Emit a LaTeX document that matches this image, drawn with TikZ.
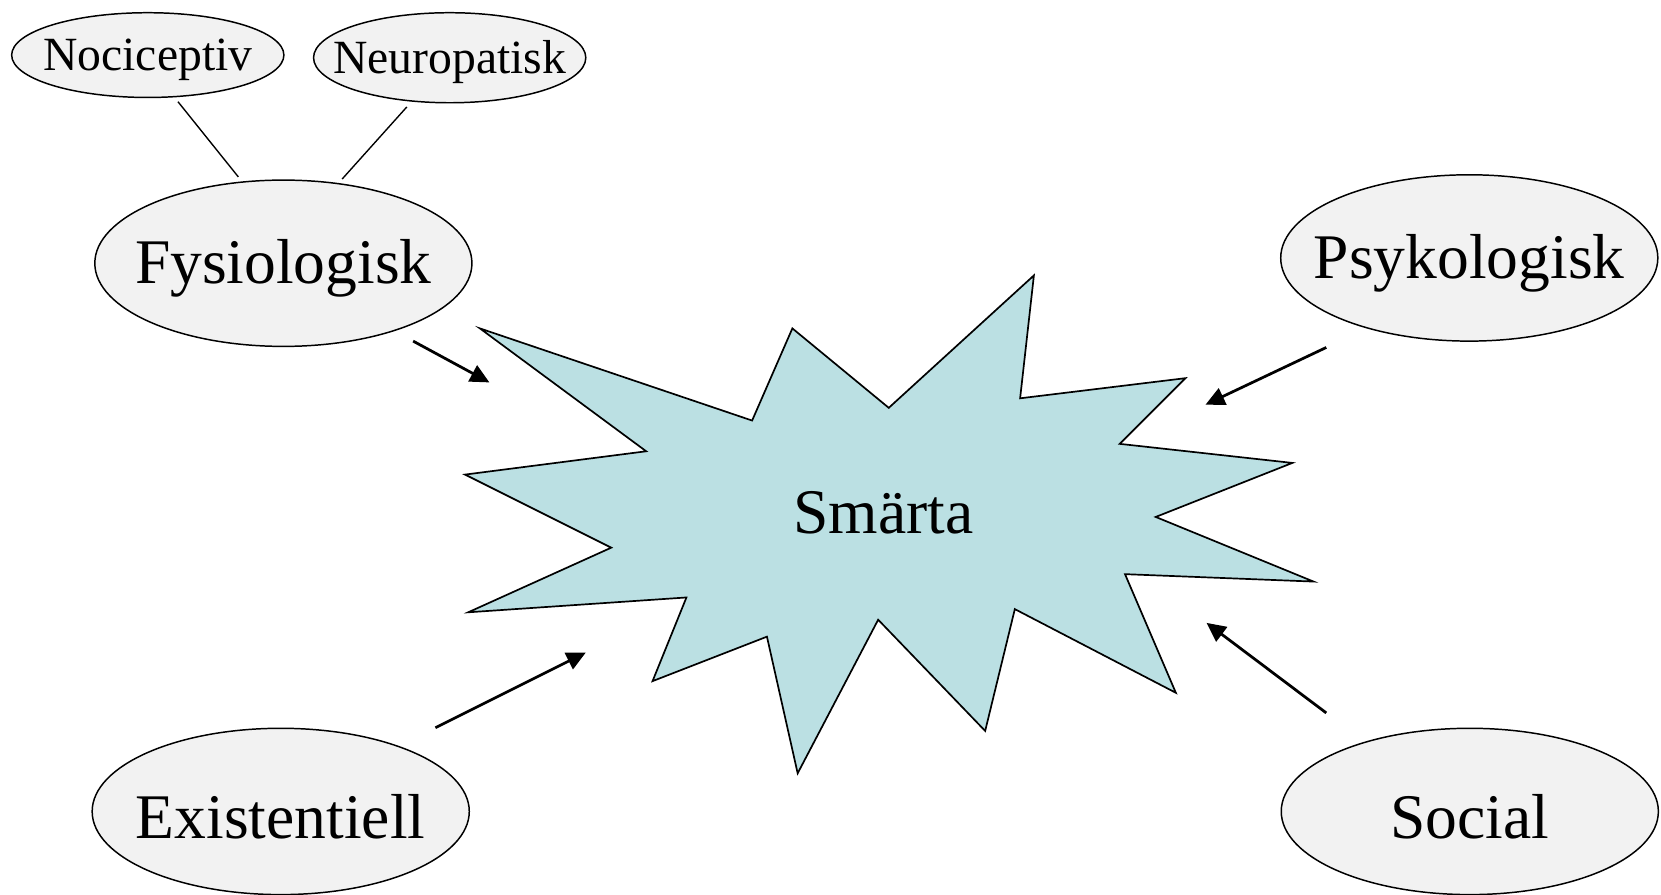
\documentclass[tikz,border=0pt]{standalone}
\usepackage{fontspec}
\setmainfont{Liberation Serif}
\usetikzlibrary{shapes.geometric,arrows.meta}
\definecolor{starfill}{HTML}{BBE0E3}
\definecolor{ellfill}{HTML}{F2F2F2}
\begin{document}
\begin{tikzpicture}[x=1pt,y=-1pt,
  oval/.style={ellipse,draw=black,line width=1.4pt,fill=ellfill,inner sep=0pt},
  bigoval/.style={oval,minimum width=356pt,minimum height=157pt,label={[font=\fontsize{60}{72}\selectfont,yshift=-5pt]center:#1}},
  smalloval/.style={oval,minimum width=257pt,label={[font=\fontsize{45}{54}\selectfont,yshift=-4pt]center:#1}},
  link/.style={line width=1.3pt},
  pointer/.style={line width=2.6pt,-{Triangle[length=18pt,width=17pt]}}]
\useasboundingbox (0,0) rectangle (1568,844);
% star
\filldraw[fill=starfill,draw=black,line width=1.6pt,line join=miter]
 (453,310) -- (710,397) -- (748,310) -- (839,385) -- (976,260) -- (963,376)
 -- (1119,357) -- (1057,419) -- (1220,437) -- (1091,488) -- (1240,549)
 -- (1062,542) -- (1110,654) -- (958,575) -- (930,690) -- (829,585)
 -- (753,730) -- (724,601) -- (616,643) -- (648,564) -- (442,578)
 -- (577,517) -- (439,448) -- (610,426) -- cycle;
\node[font=\fontsize{60}{72}\selectfont] (smarta) at (834,484) {Smärta};
% ellipses
\node[smalloval=Nociceptiv,minimum height=80pt] (noci) at (139.5,52) {};
\node[smalloval=Neuropatisk,minimum height=85pt] (neuro) at (424.5,54.5) {};
\node[bigoval=Fysiologisk] (fys) at (267.5,248.5) {};
\node[bigoval=Psykologisk] (psy) at (1387,243.5) {};
\node[bigoval=Existentiell] (exi) at (265,766) {};
\node[bigoval=Social] (soc) at (1387.5,766) {};
% links
\coordinate (n1a) at (168,96);
\coordinate (n1b) at (225,167);
\coordinate (n2a) at (384,101);
\coordinate (n2b) at (323,169);
\draw[link] (n1a) -- (n1b);
\draw[link] (n2a) -- (n2b);
% arrows
\coordinate (a1s) at (390,322); \coordinate (a1e) at (462,361);
\coordinate (a2s) at (1252,328); \coordinate (a2e) at (1138,382);
\coordinate (a3s) at (411,687); \coordinate (a3e) at (553,616);
\coordinate (a4s) at (1252,673); \coordinate (a4e) at (1139,588);
\draw[pointer] (a1s) -- (a1e);
\draw[pointer] (a2s) -- (a2e);
\draw[pointer] (a3s) -- (a3e);
\draw[pointer] (a4s) -- (a4e);
\end{tikzpicture}
\end{document}
